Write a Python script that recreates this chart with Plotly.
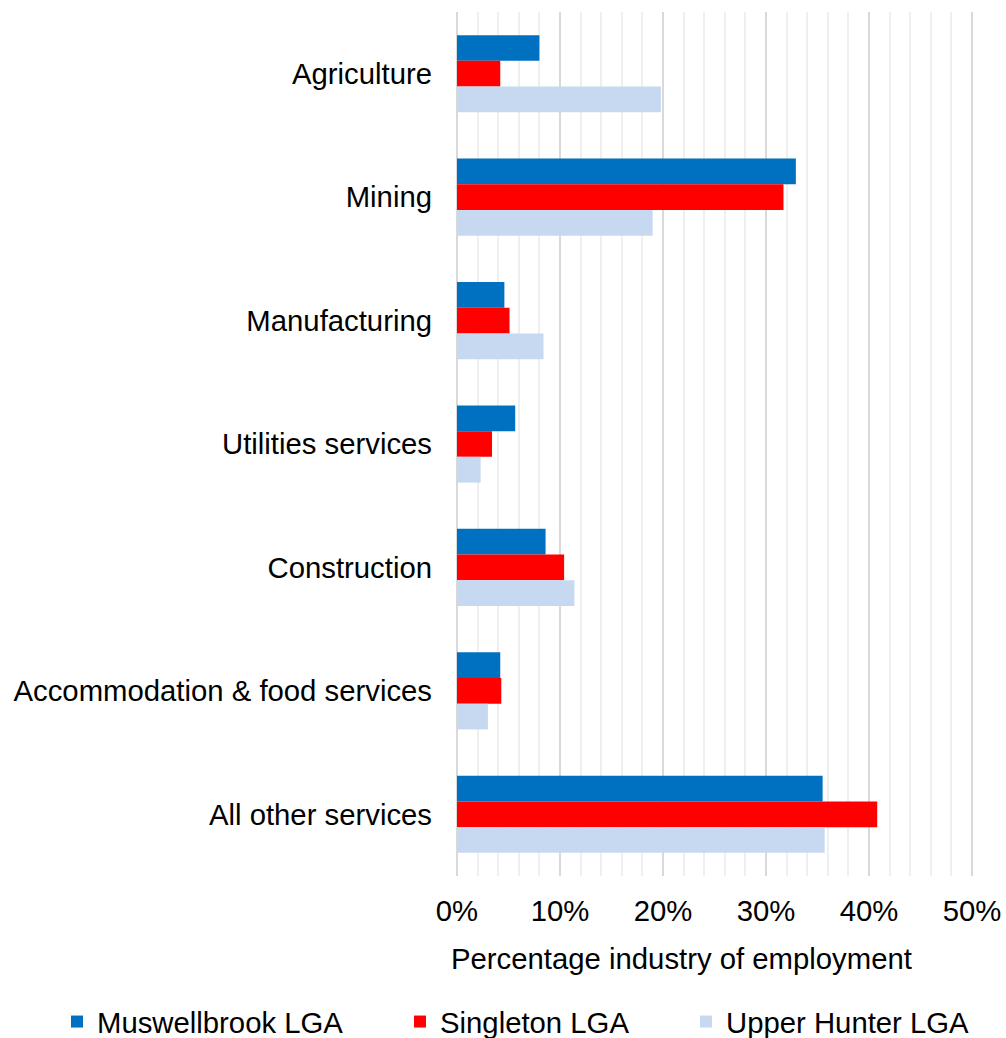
import plotly.graph_objects as go

# Industry categories (top to bottom)
industries = [
    "Agriculture",
    "Mining",
    "Manufacturing",
    "Utilities services",
    "Construction",
    "Accommodation & food services",
    "All other services",
]

# Share of employment by industry (fractions)
muswellbrook = [0.080, 0.329, 0.046, 0.0565, 0.086, 0.042, 0.355]
singleton = [0.042, 0.317, 0.051, 0.034, 0.104, 0.043, 0.408]
upper_hunter = [0.198, 0.190, 0.084, 0.023, 0.114, 0.030, 0.357]

x_ticks = [0, 0.1, 0.2, 0.3, 0.4, 0.5]
x_tick_labels = ["0%", "10%", "20%", "30%", "40%", "50%"]
x_title = "Percentage industry of employment"

FONT = "Liberation Sans, Arial, sans-serif"
FS = 29.3

series = [
    ("Muswellbrook LGA", muswellbrook, "#0070C0", "legend"),
    ("Singleton LGA", singleton, "#FF0000", "legend2"),
    ("Upper Hunter LGA", upper_hunter, "#C6D9F0", "legend3"),
]

fig = go.Figure()
for name, vals, color, leg in series:
    fig.add_trace(
        go.Bar(
            name=name,
            y=industries,
            x=vals,
            orientation="h",
            marker=dict(color=color, line=dict(width=0)),
            legend=leg,
            showlegend=True,
        )
    )

legend_common = dict(
    orientation="h",
    xref="container",
    yref="container",
    xanchor="left",
    yanchor="middle",
    y=1 - 1022 / 1038,
    font=dict(family=FONT, size=FS, color="#000000"),
    bgcolor="rgba(0,0,0,0)",
    borderwidth=0,
    visible=True,
)

fig.update_layout(
    width=1006,
    height=1038,
    margin=dict(l=457, r=33, t=12, b=162, autoexpand=False),
    paper_bgcolor="white",
    plot_bgcolor="white",
    barmode="group",
    bargap=0.375,
    bargroupgap=0,
    showlegend=True,
    font=dict(family=FONT, size=FS, color="#000000"),
    legend=dict(x=57 / 1006, **legend_common),
    legend2=dict(x=400 / 1006, **legend_common),
    legend3=dict(x=686 / 1006, **legend_common),
    xaxis=dict(
        range=[0, 0.501],
        automargin=False,
        tickmode="array",
        tickvals=x_ticks,
        ticktext=x_tick_labels,
        showgrid=True,
        gridcolor="#D9D9D9",
        gridwidth=2,
        minor=dict(dtick=0.02, showgrid=True, gridcolor="#EFEFEF", gridwidth=2),
        zeroline=True,
        zerolinecolor="#D9D9D9",
        zerolinewidth=2,
        showline=False,
        ticks="",
        ticklabelstandoff=15,
        tickfont=dict(family=FONT, size=FS, color="#000000"),
    ),
    yaxis=dict(
        autorange="reversed",
        automargin=False,
        showgrid=False,
        showline=False,
        ticks="",
        ticklabelstandoff=24,
        tickfont=dict(family=FONT, size=FS, color="#000000"),
    ),
    annotations=[
        dict(
            text=x_title,
            xref="paper",
            yref="paper",
            x=0.435,
            y=-0.0955,
            xanchor="center",
            yanchor="middle",
            showarrow=False,
            font=dict(family=FONT, size=FS, color="#000000"),
        )
    ],
)

fig.write_html("out.html")
